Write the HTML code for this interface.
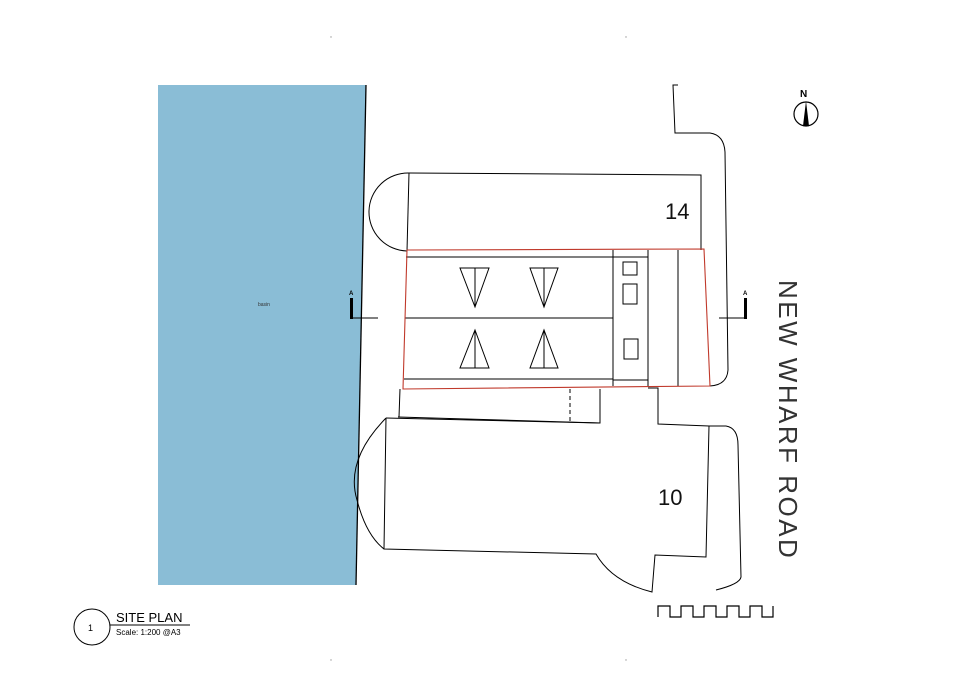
<!DOCTYPE html>
<html><head><meta charset="utf-8"><style>html,body{margin:0;padding:0;background:#fff}svg{display:block}</style></head>
<body>
<svg width="960" height="678" viewBox="0 0 960 678" xmlns="http://www.w3.org/2000/svg" font-family="Liberation Sans, sans-serif">
<rect width="960" height="678" fill="#fff"/>
<g fill="#999"><circle cx="331" cy="37" r="0.7"/><circle cx="626" cy="37" r="0.7"/><circle cx="331" cy="660" r="0.7"/><circle cx="626" cy="660" r="0.7"/></g>
<polygon points="158,85 366,85 356,585 158,585" fill="#8abdd6"/>
<line x1="366" y1="85" x2="356" y2="585" stroke="#000" stroke-width="1.3"/>
<text x="258" y="306" font-size="5" fill="#333">basin</text>
<g fill="none" stroke="#000" stroke-width="1">
<path d="M409,173 L701,175 L701,250"/>
<path d="M409,173 L407,251"/>
<path d="M409,173 A39,39 0 0 0 407,251"/>
<line x1="406" y1="257" x2="613" y2="257"/>
<line x1="405" y1="318" x2="613" y2="318"/>
<line x1="404" y1="379" x2="613" y2="379"/>
<line x1="613" y1="250" x2="613" y2="386"/>
<line x1="648" y1="250" x2="648" y2="386"/>
<line x1="613" y1="257" x2="648" y2="257"/>
<line x1="613" y1="380" x2="648" y2="380"/>
<line x1="678" y1="250" x2="678" y2="386"/>
<rect x="623" y="262" width="14" height="13"/>
<rect x="623" y="284" width="14" height="20"/>
<rect x="624" y="339" width="14" height="20"/>
<path d="M460,268 L489,268 L475,307 Z M475,268 L475,307"/>
<path d="M530,268 L558,268 L544,307 Z M544,268 L544,307"/>
<path d="M460,368 L489,368 L475,330 Z M475,330 L475,368"/>
<path d="M530,368 L558,368 L544,330 Z M544,330 L544,368"/>
<path d="M678,85 L673,85 L675,133 L710,133 Q724,135 725,152 L728,370 Q727,385 710,386"/>
<path d="M400,389 L399,417 M398,417 L600,423 L600,389"/>
<line x1="570" y1="389" x2="570" y2="423" stroke-dasharray="4,3"/>
<path d="M648,388 L658,388 L658,424 L709,426"/>
<path d="M386,418 L600,423"/>
<path d="M386,418 L384,549 L596,554 Q612,582 652,592 L655,555 L706,557 L709,426"/>
<path d="M386,418 Q345,460 357,500 Q366,535 384,549"/>
<path d="M709,426 L726,426 Q738,428 738,445 L741,577 Q740,584 716,590"/>
<line x1="351" y1="318" x2="378" y2="318"/>
<line x1="719" y1="318" x2="745" y2="318"/>
<path d="M658,617 L658,606 L670,606 L670,617 L681,617 L681,606 L693,606 L693,617 L704,617 L704,606 L716,606 L716,617 L727,617 L727,606 L739,606 L739,617 L750,617 L750,606 L762,606 L762,617 L773,617 L773,606" stroke-width="1.2"/>
<circle cx="92" cy="627" r="18"/>
<line x1="110" y1="625" x2="190" y2="625"/>
</g>
<path d="M407,250 L704,249 L710,386 L403,389 Z" fill="none" stroke="#c0392b" stroke-width="1.1"/>
<rect x="350" y="298" width="3" height="21" fill="#000"/>
<rect x="744" y="298" width="3" height="21" fill="#000"/>
<text x="349" y="295" font-size="6" font-weight="bold">A</text>
<text x="743" y="295" font-size="6" font-weight="bold">A</text>
<text x="665" y="219" font-size="22" fill="#111">14</text>
<text x="658" y="505" font-size="22" fill="#111">10</text>
<text transform="translate(779,280) rotate(90)" font-size="26" letter-spacing="2.2" fill="#333" textLength="280" lengthAdjust="spacing">NEW WHARF ROAD</text>
<circle cx="806" cy="114" r="12" fill="none" stroke="#000" stroke-width="1.2"/>
<polygon points="806,101 803,126 809,126" fill="#000"/>
<text x="800" y="97" font-size="10" font-weight="bold">N</text>
<text x="88" y="631" font-size="9">1</text>
<text x="116" y="622" font-size="13">SITE PLAN</text>
<text x="116" y="635" font-size="8">Scale: 1:200  @A3</text>
</svg>
</body></html>
